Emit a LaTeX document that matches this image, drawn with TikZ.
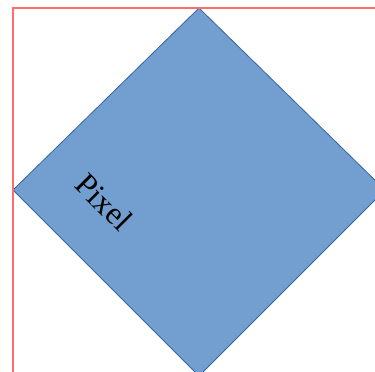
\documentclass[tikz,border=0pt]{standalone}
\usepackage{fontspec}
\setmainfont{Liberation Serif}
\definecolor{fillblue}{RGB}{114,159,207}
\definecolor{edgeblue}{RGB}{52,101,164}
\definecolor{axisred}{RGB}{255,110,110}
\begin{document}
\begin{tikzpicture}[x=1pt,y=-1pt,
  axis/.style={draw=axisred,line width=1.2pt},
  pix/.style={fill=fillblue,draw=edgeblue,line width=0.8pt,line join=miter}]
\useasboundingbox (0,0) rectangle (375,372);
\begin{scope}
\clip (0,0) rectangle (375,372);
\draw[pix] (199,8) -- (385,190) -- (199,376) -- (13,190) -- cycle;
\end{scope}
\draw[axis] (13,372) -- (13,8) -- (375,8);
\node[rotate=-45,font=\fontsize{32}{38}\selectfont,inner sep=0pt] (lbl) at (104,202) {Pixel};
\end{tikzpicture}
\end{document}
